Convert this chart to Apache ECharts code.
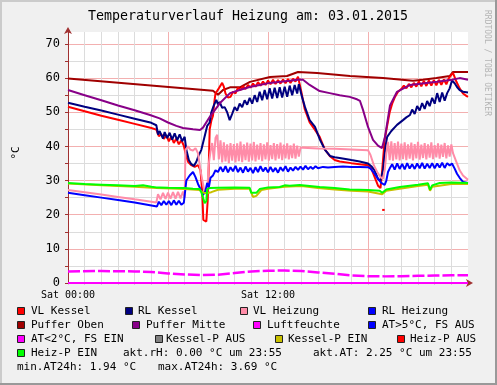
<!DOCTYPE html>
<html><head><meta charset="utf-8">
<script src="https://cdn.jsdelivr.net/npm/echarts@6/dist/echarts.min.js"></script>
<style>html,body{margin:0;padding:0;background:#f0f0f0}#c{width:497px;height:385px}</style>
</head><body><div id="c"></div>
<script>
// ---- data (x = hours since Sat 00:00, y = °C) ----
const titleText = 'Temperaturverlauf Heizung am: 03.01.2015';
const xTickLabels = {0: 'Sat 00:00', 12: 'Sat 12:00'};
const yTickValues = [0, 10, 20, 30, 40, 50, 60, 70];

const pufferOben = [[0,59.9],[8.7,56.3],[9.0,55.1],[9.3,56.5],[9.72,57.3],[10.32,57.3],[10.5,57.8],[10.92,58.9],[12.12,60.3],[13.14,60.6],[13.8,61.8],[14.94,61.5],[16.92,60.6],[18.9,60],[20.7,59.2],[21.3,59.5],[22.1,60],[22.9,60.6],[23.1,61.8],[24,61.8]];

const vlKessel = [[0,51.6],[1,50.3],[2,49],[3,47.8],[4,46.6],[5,45.4],[5.3,44.9],[5.45,43],[5.6,43.6],[5.75,42.2],[5.9,43.3],[6.05,41.5],[6.2,42.8],[6.35,41],[6.5,42.3],[6.65,40.6],[6.8,41.8],[6.95,40.2],[7.05,38],[7.2,35.5],[7.4,34.5],[7.6,34],[7.8,34.5],[7.95,33],[8.05,27],[8.12,18.5],[8.3,18],[8.38,24],[8.45,35],[8.5,45],[8.6,47.5],[8.7,49],[8.78,53],[8.85,55.5],[8.95,55],[9.05,57],[9.15,56.5],[9.25,58.6],[9.35,57.5],[9.45,55.5],[9.6,54.3],[9.75,54.5],[9.9,56],[10.05,55.5],[10.2,57.2],[10.35,56.5],[10.5,57.6],[10.65,56.8],[10.8,58],[10.95,57.2],[11.1,58.4],[11.25,57.5],[11.4,58.8],[11.55,57.8],[11.7,59.0],[11.85,58],[12,59.3],[12.15,58.2],[12.3,59.5],[12.45,58.3],[12.6,59.4],[12.75,58.4],[12.9,59.6],[13.05,58.5],[13.2,59.7],[13.35,58.6],[13.5,59.8],[13.65,59],[13.8,60.4],[14.0,56],[14.2,51],[14.5,47],[14.8,45],[15.1,42.8],[15.4,39.2],[15.7,37.2],[16,36],[16.3,35.6],[17,35.1],[17.5,34.8],[18,34.5],[18.2,33.5],[18.4,31],[18.6,28.5],[18.75,27.8],[18.85,33],[19.0,42],[19.15,46],[19.3,50],[19.45,52.5],[19.6,54.3],[19.8,56],[20,56.8],[20.15,57.8],[20.3,57],[20.45,58.3],[20.6,57.3],[20.75,58.6],[20.9,57.5],[21.05,59],[21.2,57.6],[21.35,59.2],[21.5,57.7],[21.65,59.3],[21.8,57.8],[21.95,59.4],[22.1,57.9],[22.25,59.5],[22.4,58],[22.55,59.6],[22.7,58.2],[22.85,60],[23.1,61.5],[23.3,59],[23.5,57],[23.7,55.5],[23.9,54.8],[24,54.5]];

const rlKessel = [[0,52.8],[1,51.6],[2,50.5],[3,49.3],[4,48.1],[5,46.9],[5.3,46.2],[5.4,43.5],[5.5,44.5],[5.6,44],[5.7,42.3],[5.8,44.2],[5.95,42.4],[6.1,44],[6.25,42],[6.4,43.8],[6.55,41.8],[6.7,43.5],[6.85,41.5],[7.0,42.8],[7.1,39],[7.25,36],[7.4,34.8],[7.55,34.3],[7.7,35.5],[7.85,37.5],[8.0,39],[8.1,41],[8.2,43],[8.35,46],[8.5,47],[8.6,50],[8.75,52],[8.9,53.6],[9.0,52.3],[9.1,53],[9.25,51.3],[9.4,51.5],[9.55,50],[9.7,47.7],[9.85,49.5],[10.0,51.5],[10.15,50.5],[10.3,52.5],[10.45,51.5],[10.6,53.5],[10.75,52.2],[10.9,54.2],[11.05,52.5],[11.2,55],[11.35,53],[11.5,56],[11.65,53.5],[11.8,56.5],[11.95,53.8],[12.1,57],[12.25,54],[12.4,57.2],[12.55,54.2],[12.7,57.3],[12.85,54.3],[13,57.5],[13.15,54.5],[13.3,57.8],[13.45,55],[13.6,58],[13.75,55.5],[13.85,58.2],[14.04,54.5],[14.22,51.5],[14.5,47.7],[14.82,45.7],[15.12,41.9],[15.42,39],[15.72,37.2],[16,36.8],[16.3,36.6],[17,36],[17.5,35.6],[18,35],[18.2,34.2],[18.4,33],[18.6,30.5],[18.75,30],[18.9,33],[19.05,40],[19.15,42.8],[19.4,44.5],[19.74,46.3],[20.1,47.7],[20.3,48.5],[20.52,49.2],[20.65,50.8],[20.8,49.5],[20.95,51.8],[21.1,50.5],[21.25,52.7],[21.4,51],[21.55,53.3],[21.7,51.8],[21.85,54.2],[22,52.5],[22.15,55.6],[22.3,53],[22.45,55.8],[22.6,53.4],[22.75,55.6],[22.9,57],[23.04,59.3],[23.2,58.5],[23.34,57.4],[23.5,56.5],[23.7,56],[24,55.8]];

const vlHeizung = [[0,27.2],[1,26.6],[2,25.9],[3,25.2],[4,24.5],[5.3,23.6],[5.4,26],[5.55,24.5],[5.7,26.4],[5.85,24.6],[6.0,26.5],[6.15,24.7],[6.3,26.6],[6.45,24.7],[6.6,26.7],[6.75,24.8],[6.9,26.8],[7.0,25],[7.05,39],[7.2,40],[7.35,39],[7.5,38.8],[7.65,39.5],[7.8,38],[7.95,33],[8.1,29],[8.2,26.5],[8.35,26.8],[8.45,35],[8.55,38.5],[8.65,41],[8.75,36],[8.85,42.5],[8.95,43.4],[9.05,36.2],[9.15,41.8],[9.25,35.3],[9.35,41.2],[9.45,35.6],[9.55,40.6],[9.65,35.1],[9.75,41],[9.85,35.8],[9.95,40.7],[10.05,35.3],[10.15,40.9],[10.25,35.7],[10.35,41.4],[10.45,35.4],[10.55,40.6],[10.65,36],[10.75,41.1],[10.85,35.5],[10.95,40.8],[11.05,35.9],[11.15,41.3],[11.25,35.6],[11.35,40.5],[11.45,36.1],[11.55,41],[11.65,35.7],[11.75,40.6],[11.85,36.2],[11.95,41.2],[12.05,35.8],[12.15,40.4],[12.25,36.3],[12.35,41],[12.45,35.9],[12.55,40.7],[12.65,36.4],[12.75,41.1],[12.85,36],[12.95,40.5],[13.05,36.5],[13.15,40.9],[13.25,36.2],[13.35,40.3],[13.45,36.6],[13.55,40.8],[13.65,36.4],[13.75,40.2],[13.85,37],[13.95,39.6],[14.1,39.6],[15,39.4],[16,39.3],[17,39.1],[18,38.9],[18.15,37.5],[18.35,34.5],[18.55,32.5],[18.75,31],[18.9,30.5],[19.0,33],[19.1,38],[19.2,41.3],[19.3,36],[19.4,41.5],[19.5,35.8],[19.6,41],[19.7,36.2],[19.8,41.4],[19.9,35.9],[20.0,40.8],[20.1,36.3],[20.2,41.2],[20.3,36],[20.4,40.6],[20.5,36.4],[20.6,41.1],[20.7,35.9],[20.8,40.7],[20.9,36.5],[21.0,41.3],[21.1,36.1],[21.2,40.5],[21.3,36.6],[21.4,41],[21.5,36.2],[21.6,40.6],[21.7,36.7],[21.8,41.2],[21.9,36.3],[22.0,40.4],[22.1,36.8],[22.2,40.9],[22.3,36.4],[22.4,40.5],[22.5,36.9],[22.6,41],[22.7,36.5],[22.8,40.3],[22.9,37],[23.0,40.6],[23.1,38],[23.3,35.5],[23.5,33],[23.7,31.5],[24,30.2]];

const rlHeizung = [[0,26.4],[1,25.7],[2,25],[3,24.3],[4,23.6],[5.34,22.4],[5.45,23.8],[5.6,22.8],[5.75,24],[5.9,22.9],[6.05,24],[6.2,22.8],[6.35,24.2],[6.5,22.9],[6.65,24.1],[6.8,22.9],[6.95,23.5],[7.02,23],[7.1,30],[7.3,31.5],[7.5,32.5],[7.65,31],[7.8,29],[7.95,27.5],[8.1,25.8],[8.25,27],[8.35,29.3],[8.45,28],[8.55,30.8],[8.7,31.5],[8.85,33],[9.0,32.5],[9.15,34],[9.3,32.6],[9.45,34.2],[9.6,32.4],[9.75,33.9],[9.9,32.7],[10.05,34.3],[10.2,32.5],[10.35,33.8],[10.5,32.3],[10.65,34.1],[10.8,32.6],[10.95,33.7],[11.1,32.2],[11.25,33.9],[11.4,32.5],[11.55,34.2],[11.7,32.7],[11.85,33.8],[12.0,32.4],[12.15,34],[12.3,32.6],[12.45,33.7],[12.6,32.3],[12.75,33.9],[12.9,32.8],[13.05,34.2],[13.2,32.6],[13.35,33.8],[13.5,32.9],[13.65,34],[13.8,33.1],[13.95,34.1],[14.1,33.2],[14.25,34.3],[14.4,33.3],[14.55,34],[14.7,33.4],[14.85,34.2],[15.0,33.6],[15.3,34],[15.6,33.8],[16,34],[16.5,34.1],[17,34],[17.5,34],[18.0,33.9],[18.15,33.5],[18.4,32],[18.6,30.5],[18.8,29.3],[19.0,28.7],[19.1,30],[19.2,32.5],[19.3,33.5],[19.45,34.8],[19.6,33.2],[19.75,35],[19.9,33.4],[20.05,34.9],[20.2,33.3],[20.35,35.1],[20.5,33.5],[20.65,34.8],[20.8,33.4],[20.95,35],[21.1,33.6],[21.25,35.2],[21.4,33.5],[21.55,34.9],[21.7,33.7],[21.85,35.1],[22.0,33.6],[22.15,35],[22.3,33.8],[22.45,35.2],[22.6,33.7],[22.75,35.1],[22.9,34.4],[23.04,35],[23.2,33.5],[23.34,32],[23.5,30.8],[23.7,29.6],[24,29.3]];

const pufferMitte = [[0,56.5],[1,55],[2,53.5],[3,52],[4,50.6],[4.92,49.2],[5.5,48.2],[6,47],[6.5,46],[6.9,45.4],[7.5,45],[7.92,44.8],[8.1,45.5],[8.5,48.6],[9.12,52.7],[9.72,55.6],[10.3,56.5],[10.9,57.4],[11.5,58],[12.1,58.6],[13.3,59.2],[13.9,59.6],[14.1,59.5],[14.5,58],[15.1,56.2],[15.7,55.6],[16.3,55],[16.9,54.5],[17.34,53.8],[17.52,53.3],[17.7,50.7],[18.0,45.7],[18.3,41.9],[18.6,40.2],[18.84,39.5],[19.02,42.8],[19.32,52],[19.74,56],[20.52,58],[21.5,58.6],[22.14,58.9],[23.04,59.5],[23.5,60],[24,59.5]];

const aussenTemp = [[0,3.4],[2,3.5],[4,3.4],[5,3.2],[6,2.8],[7,2.5],[8,2.3],[9,2.4],[10,2.9],[11,3.4],[12,3.6],[13,3.65],[14,3.5],[15,3.1],[16,2.7],[17,2.2],[18,2.0],[19,1.94],[20,2.0],[21,2.1],[22,2.2],[23,2.25],[24,2.25]];

const luftfeuchte = [[0,0],[24,0]];

const kesselPEin = [[0,29.1],[2,28.6],[4,28.2],[5.3,27.8],[7,27.5],[7.9,27.2],[8.1,26.5],[8.3,26.3],[8.6,26.6],[9,27.3],[10,27.6],[10.9,27.6],[11.1,25.2],[11.3,25.5],[11.6,27.2],[12,27.6],[13,28.2],[14,28.4],[15,27.8],[16,27.4],[17,27],[18,26.8],[18.85,26],[19.1,27],[20,27.7],[21,28.4],[21.6,28.8],[21.72,27],[21.85,28.2],[23,29],[24,29]];

const heizPEin = [[0,29.3],[1,29],[2,28.8],[3,28.6],[4,28.4],[4.5,28.6],[5,28.2],[5.3,28.0],[5.4,28.4],[5.5,28],[6,27.9],[7,27.8],[7.5,27.6],[7.9,27.5],[8.0,26.6],[8.1,26.4],[8.2,23.4],[8.3,24],[8.35,27.5],[8.5,27.8],[9,27.9],[10,28],[10.9,27.9],[11.0,26.4],[11.1,25.9],[11.3,26.4],[11.5,27.5],[12,28],[12.7,28.1],[13,28.6],[13.3,28.5],[13.9,28.7],[14.5,28.4],[15.1,28.1],[16,27.8],[16.9,27.4],[18,27.2],[18.7,27],[18.85,26.4],[18.95,26.7],[19.1,27.4],[19.9,28.1],[21,28.8],[21.6,29.2],[21.72,27.3],[21.85,28.6],[22.3,29.3],[23,29.4],[24,29.3]];

const heizPAus = [[18.85,21.4],[19.0,21.4]];

const legendRows = [
  [['sq','#ff0000',17],['t','VL Kessel',31],['sq','#000080',125],['t','RL Kessel',138],['sq','#ff8ca8',240],['t','VL Heizung',253],['sq','#0000ff',368],['t','RL Heizung',382]],
  [['sq','#a00000',17],['t','Puffer Oben',31],['sq','#880088',132],['t','Puffer Mitte',146],['sq','#ff00ff',253],['t','Luftfeuchte',267],['sq','#0000ff',368],['t','AT>5°C, FS AUS',382]],
  [['sq','#ff00ff',17],['t','AT<2°C, FS EIN',31],['sq','#808080',155],['t','Kessel-P AUS',166],['sq','#c8c000',275],['t','Kessel-P EIN',288],['sq','#ff0000',397],['t','Heiz-P AUS',410]],
  [['sq','#00ff00',17],['t','Heiz-P EIN',31],['t','akt.rH: 0.00 °C um 23:55',123],['t','akt.AT: 2.25 °C um 23:55',313]],
  [['t','min.AT24h: 1.94 °C',17],['t','max.AT24h: 3.69 °C',158]]
];
const legendRowY = [311, 325, 339, 353, 367];

// ---- chart ----
const MONO = '"DejaVu Sans Mono", "Liberation Mono", monospace';
const AXIS_COLOR = '#a03030';
const chart = echarts.init(document.getElementById('c'), null, {renderer: 'canvas'});

function line(name, data, color, extra) {
  return Object.assign({
    name: name, type: 'line', data: data, showSymbol: false, symbol: 'none',
    lineStyle: {color: color, width: 2}, itemStyle: {color: color},
    animation: false, z: 3
  }, extra || {});
}

const graphics = [];
graphics.push({type: 'line', shape: {x1: 0, y1: 1, x2: 497, y2: 1}, style: {stroke: '#cbcbcb', lineWidth: 2}, silent: true});
graphics.push({type: 'line', shape: {x1: 1, y1: 0, x2: 1, y2: 385}, style: {stroke: '#cbcbcb', lineWidth: 2}, silent: true});
graphics.push({type: 'line', shape: {x1: 0, y1: 384, x2: 497, y2: 384}, style: {stroke: '#999999', lineWidth: 2}, silent: true});
graphics.push({type: 'line', shape: {x1: 496, y1: 0, x2: 496, y2: 385}, style: {stroke: '#999999', lineWidth: 2}, silent: true});
graphics.push({type: 'text', x: 248, y: 17, style: {text: titleText, font: '13.3px ' + MONO, fill: '#000', textAlign: 'center', textVerticalAlign: 'middle'}});
graphics.push({type: 'text', x: 16, y: 153, rotation: Math.PI / 2, style: {text: '°C', font: '11px ' + MONO, fill: '#000', textAlign: 'center', textVerticalAlign: 'middle'}});
graphics.push({type: 'text', x: 487, y: 63, rotation: -Math.PI / 2, style: {text: 'RRDTOOL / TOBI OETIKER', font: '8px ' + MONO, fill: '#b4b4b4', textAlign: 'center', textVerticalAlign: 'middle'}});
legendRows.forEach(function (row, ri) {
  const cy = legendRowY[ri];
  row.forEach(function (it) {
    if (it[0] === 'sq') {
      graphics.push({type: 'rect', shape: {x: it[2] + 0.5, y: cy - 3.5, width: 7, height: 7}, style: {fill: it[1], stroke: '#222', lineWidth: 1}});
    } else {
      graphics.push({type: 'text', x: it[2], y: cy, style: {text: it[1], font: '11px ' + MONO, fill: '#000', textAlign: 'left', textVerticalAlign: 'middle'}});
    }
  });
});

const option = {
  animation: false,
  backgroundColor: '#f0f0f0',
  grid: {left: 68, top: 32, width: 400, height: 251, show: true, backgroundColor: '#ffffff', borderWidth: 0},
  xAxis: {
    type: 'value', min: 0, max: 24, interval: 1,
    axisLine: {show: true, onZero: false, lineStyle: {color: AXIS_COLOR, width: 1}, symbol: ['none', 'arrow'], symbolSize: [6, 7], symbolOffset: [0, 5]},
    axisTick: {show: true, length: 2, lineStyle: {color: '#d0d0d0'}},
    axisLabel: {margin: 7, color: '#000', fontFamily: MONO, fontSize: 10,
      formatter: function (v) { return xTickLabels[v] !== undefined ? xTickLabels[v] : ''; }},
    splitLine: {show: true, showMinLine: true, showMaxLine: false,
      lineStyle: {color: ['#f3b0b0', '#dcdcdc', '#dcdcdc', '#dcdcdc', '#dcdcdc', '#dcdcdc'], width: 1}}
  },
  yAxis: {
    type: 'value', min: 0, max: 73.5, interval: 5,
    axisLine: {show: true, onZero: false, lineStyle: {color: AXIS_COLOR, width: 1}, symbol: ['none', 'arrow'], symbolSize: [6, 7], symbolOffset: [0, 5]},
    axisTick: {show: true, length: 3, lineStyle: {color: AXIS_COLOR}},
    axisLabel: {margin: 8, color: '#000', fontFamily: MONO, fontSize: 12, showMaxLabel: false,
      formatter: function (v) { return yTickValues.indexOf(v) >= 0 ? String(v) : ''; }},
    splitLine: {show: true, showMinLine: true, showMaxLine: false,
      lineStyle: {color: ['#f3b0b0', '#dcdcdc'], width: 1}}
  },
  series: [
    line('Puffer Oben', pufferOben, '#a00000'),
    line('VL Kessel', vlKessel, '#ff0000'),
    line('RL Kessel', rlKessel, '#000080'),
    line('VL Heizung', vlHeizung, '#ff8ca8'),
    line('RL Heizung', rlHeizung, '#0000ff'),
    line('Puffer Mitte', pufferMitte, '#880088'),
    line('AT<2°C, FS EIN', aussenTemp, '#ff00ff', {lineStyle: {color: '#ff00ff', width: 2.5, type: [12, 3]}}),
    line('Luftfeuchte', luftfeuchte, '#ff00ff', {lineStyle: {color: '#ff00ff', width: 2}}),
    line('Kessel-P EIN', kesselPEin, '#c8c000'),
    line('Heiz-P EIN', heizPEin, '#00ff00'),
    line('Heiz-P AUS', heizPAus, '#ff0000')
  ],
  graphic: graphics
};
chart.setOption(option);
</script></body></html>
